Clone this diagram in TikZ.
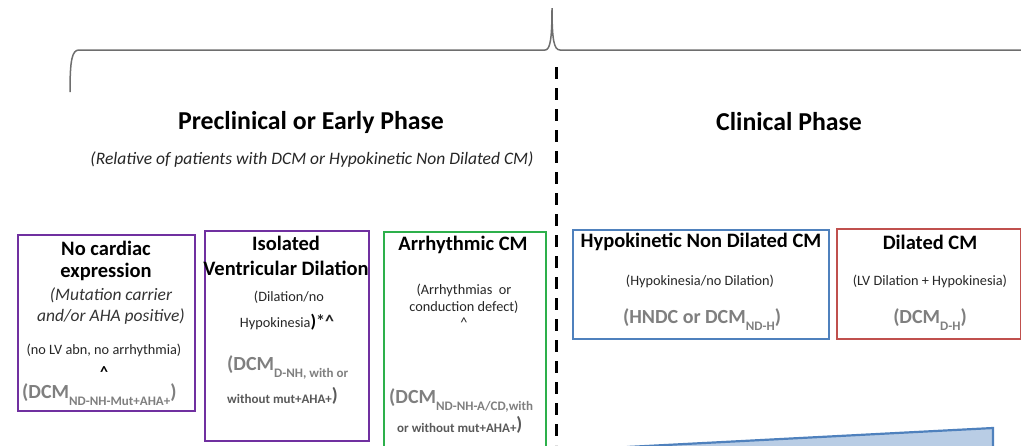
\documentclass[tikz,border=0pt]{standalone}
\usepackage{fontspec}
\setmainfont{Carlito}
\definecolor{cpurple}{HTML}{7030A0}
\definecolor{cgreen}{HTML}{2DB04B}
\definecolor{cblue}{HTML}{4F81BD}
\definecolor{cred}{HTML}{C0504D}
\definecolor{cwedge}{HTML}{B9CDE5}
\definecolor{cgray}{HTML}{7F7F7F}
\definecolor{cbrace}{HTML}{6E6E6E}
\newcommand\fsz[1]{\fontsize{#1}{1.15\dimexpr #1pt\relax}\selectfont}
\newcommand\sbs[1]{\raisebox{-0.35em}{\fsz{13}#1}}
\begin{document}
\begin{tikzpicture}[x=1pt,y=-1pt,
  box/.style={draw=#1, line width=2.2pt, anchor=north west, inner sep=0pt},
  ttl/.style={inner sep=0pt, font=\bfseries\fsz{20.5}, text=black},
  sml/.style={inner sep=0pt, font=\fsz{14.3}, text=black!85},
  itl/.style={inner sep=0pt, font=\itshape\fsz{17.5}, text=black!80},
  gry/.style={inner sep=0pt, font=\bfseries\fsz{20}, text=cgray},
  head/.style={inner sep=0pt, font=\bfseries\fsz{25.8}, text=black},
  brace/.style={draw=cbrace, line width=1.5pt},
  divider/.style={draw=black, line width=3pt, dash pattern=on 12pt off 9pt}]
\useasboundingbox (0,0) rectangle (1021,445);
% brace
\coordinate (bl) at (70,92);
\coordinate (tip) at (552,8);
\coordinate (br) at (1021,50);
\draw[brace] (bl) .. controls (70,60) and (72,50) .. (79,50) -- (545,50)
  .. controls (550,50) and (552,40) .. (tip)
  .. controls (552,40) and (554,50) .. (560,50) -- (br);
% divider
\coordinate (dtop) at (556,67);
\coordinate (dbot) at (556,445);
\draw[divider] (dtop) -- (dbot);
% headings
\node[head] (pre) at (311,122) {Preclinical or Early Phase};
\node[head] (cli) at (789,122) {Clinical Phase};
\node[inner sep=0pt, font=\itshape\fsz{17.5}, text=black!85] (rel) at (312,160) {(Relative of patients with DCM or Hypokinetic Non Dilated CM)};
% wedge
\coordinate (w1) at (627,447);
\coordinate (w2) at (993,428);
\coordinate (w3) at (993,447);
\fill[cwedge] (w1) -- (w2) -- (w3) -- cycle;
\draw[cblue, line width=2.2pt] (w1) -- (w2) -- (w3);
% boxes
\node[box=cpurple, minimum width=177pt, minimum height=176pt] (b1) at (17,234) {};
\node[box=cpurple, minimum width=164pt, minimum height=210pt] (b2) at (204,230) {};
\node[box=cgreen, minimum width=162pt, minimum height=230pt] (b3) at (383,231) {};
\node[box=cblue, minimum width=256pt, minimum height=109pt] (b4) at (572,229) {};
\node[box=cred, minimum width=184pt, minimum height=110pt] (b5) at (836,228) {};
% box 1 texts
\node[ttl] (b1a) at (106,248) {No cardiac};
\node[ttl] (b1b) at (106,272) {expression};
\node[itl] (b1c) at (111,295) {(Mutation carrier};
\node[itl] (b1d) at (111,317) {and/or AHA positive)};
\node[sml] (b1e) at (104,350) {(no LV abn, no arrhythmia)};
\node[ttl, font=\bfseries\fsz{16}] (b1f) at (104,372) {\textasciicircum};
\node[gry, anchor=west] (b1g) at (22,395) {(DCM\sbs{ND-NH-Mut+AHA+})};
% box 2 texts
\node[ttl] (b2a) at (286,243) {Isolated};
\node[ttl] (b2b) at (286,268) {Ventricular Dilation};
\node[sml] (b2c) at (289,297) {(Dilation/no};
\node[sml] (b2d) at (287,322) {Hypokinesia\textbf{\fsz{18}\textcolor{black})*\textasciicircum}};
\node[gry, anchor=west] (b2e) at (227,367) {(DCM\sbs{D-NH, with or}};
\node[sml, anchor=west, text=black!65, font=\bfseries\fsz{13}] (b2f) at (227,396) {without mut+AHA+\raisebox{0.15em}{\fsz{19})}};
% box 3 texts
\node[ttl] (b3a) at (463,245) {Arrhythmic CM};
\node[sml] (b3b) at (464,290) {(Arrhythmias\ \ or};
\node[sml] (b3c) at (464,307) {conduction defect)};
\node[sml] (b3d) at (464,323) {\textasciicircum};
\node[gry, anchor=west] (b3e) at (389,400) {(DCM\sbs{ND-NH-A/CD,with}};
\node[sml, anchor=west, text=black!65, font=\bfseries\fsz{13}] (b3f) at (397,425) {or without mut+AHA+\raisebox{0.15em}{\fsz{19})}};
% box 4 texts
\node[ttl] (b4a) at (701,242) {Hypokinetic Non Dilated CM};
\node[sml] (b4b) at (700,281) {(Hypokinesia/no Dilation)};
\node[gry] (b4c) at (702,320) {(HNDC or DCM\sbs{ND-H})};
% box 5 texts
\node[ttl] (b5a) at (930,242) {Dilated CM};
\node[sml] (b5b) at (930,281) {(LV Dilation + Hypokinesia)};
\node[gry] (b5c) at (930,320) {(DCM\sbs{D-H})};
\end{tikzpicture}
\end{document}
